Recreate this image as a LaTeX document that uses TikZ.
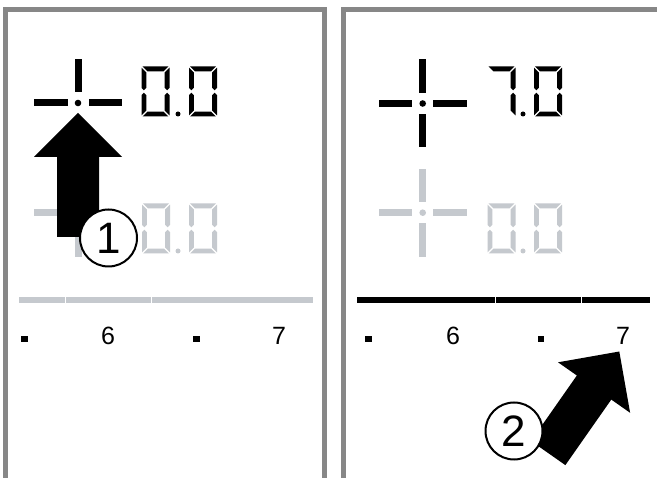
\documentclass[tikz,border=0pt]{standalone}
\usepackage{fontspec}
\setmainfont{Liberation Sans}
\definecolor{framegray}{HTML}{878787}
\definecolor{lcdoff}{HTML}{C5C9CE}
% seven-segment pieces, local box 28 x 50
\newcommand\sgA{(1.2,0) -- (26.8,0) -- (22,4.8) -- (6,4.8) -- cycle}
\newcommand\sgD{(1.2,50) -- (26.8,50) -- (22,45.2) -- (6,45.2) -- cycle}
\newcommand\sgF{(0,1.2) -- (4.8,6) -- (4.8,21.4) -- (2.4,23.8) -- (0,21.4) -- cycle}
\newcommand\sgE{(0,48.8) -- (4.8,44) -- (4.8,28.6) -- (2.4,26.2) -- (0,28.6) -- cycle}
\newcommand\sgB{(28,1.2) -- (23.2,6) -- (23.2,21.4) -- (25.6,23.8) -- (28,21.4) -- cycle}
\newcommand\sgC{(28,48.8) -- (23.2,44) -- (23.2,28.6) -- (25.6,26.2) -- (28,28.6) -- cycle}
\newcommand\segzero[3]{\begin{scope}[shift={(#1,#2)}]\fill[#3] \sgA \sgB \sgC \sgD \sgE \sgF;\end{scope}}
\newcommand\segseven[3]{\begin{scope}[shift={(#1,#2)}]\fill[#3] \sgA \sgB \sgC;\end{scope}}
% crosshair bars
\newcommand\xbL[3]{\fill[#3] ({#1-44},{#2-3.5}) rectangle ({#1-10.5},{#2+3.5});}
\newcommand\xbR[3]{\fill[#3] ({#1+10.5},{#2-3.5}) rectangle ({#1+44},{#2+3.5});}
\newcommand\xbT[3]{\fill[#3] ({#1-3.5},{#2-44}) rectangle ({#1+3.5},{#2-10.5});}
\newcommand\xbB[3]{\fill[#3] ({#1-3.5},{#2+10.5}) rectangle ({#1+3.5},{#2+44});}
\newcommand\xdot[3]{\fill[#3] (#1,#2) circle (3.3);}
\tikzset{
  framel/.style={draw=framegray, line width=5pt, line join=miter},
  lbl/.style={font=\fontsize{25}{25}\selectfont, inner sep=0pt, anchor=base},
  numcirc/.style={circle, draw=black, line width=2pt, fill=white, minimum size=57pt,
    inner sep=0pt, font=\fontsize{44}{44}\selectfont},
}
\begin{document}
\begin{tikzpicture}[x=1pt,y=-1pt]
\useasboundingbox (0,0) rectangle (657,478);
\fill[white] (0,0) rectangle (657,478);
% frames
\draw[framel] (5.5,485) -- (5.5,10) -- (324.5,10) -- (324.5,485);
\draw[framel] (343,485) -- (343,10) -- (665,10);

% ---------- left panel ----------
\xbL{78}{103}{black}\xbR{78}{103}{black}\xbT{78}{103}{black}\xdot{78}{103}{black}
\segzero{141.5}{66.5}{black}
\fill[black] (178,114) circle (2.5);
\segzero{189}{66.5}{black}
% lower (inactive)
\xbL{78}{212.7}{lcdoff}\xbB{78}{212.7}{lcdoff}
\segzero{142}{203.5}{lcdoff}
\fill[lcdoff] (178,251) circle (2.5);
\segzero{189}{203.5}{lcdoff}
% bar
\fill[lcdoff] (19,297) rectangle (65,303);
\fill[lcdoff] (66,297) rectangle (151,303);
\fill[lcdoff] (152,297) rectangle (313,303);
% scale labels
\fill[black] (21,336) rectangle (27.5,342.5);
\node[lbl] (l6) at (108,345) {6};
\fill[black] (193,336) rectangle (199.5,342.5);
\node[lbl] (l7) at (279,345) {7};
% arrow 1
\fill[black] (78,113) -- (122,157) -- (99,157) -- (99,237) -- (57,237) -- (57,157) -- (34,157) -- cycle;
\node[numcirc] (c1) at (108.5,238) {1};

% ---------- right panel ----------
\xbL{422.7}{103.5}{black}\xbR{422.7}{103.5}{black}\xbT{422.7}{103.5}{black}\xbB{422.7}{103.5}{black}\xdot{422.7}{103.5}{black}
\segseven{487.5}{66.5}{black}
\fill[black] (523,114) circle (2.5);
\segzero{534}{66.5}{black}
% lower (inactive)
\xbL{422.7}{212.7}{lcdoff}\xbR{422.7}{212.7}{lcdoff}\xbT{422.7}{212.7}{lcdoff}\xbB{422.7}{212.7}{lcdoff}\xdot{422.7}{212.7}{lcdoff}
\segzero{487.5}{203.5}{lcdoff}
\fill[lcdoff] (523,251) circle (2.5);
\segzero{534}{203.5}{lcdoff}
% bar
\fill[black] (357,297) rectangle (494.5,303);
\fill[black] (495.5,297) rectangle (581,303);
\fill[black] (582,297) rectangle (650,303);
% scale labels
\fill[black] (365,336) rectangle (371.5,342.5);
\node[lbl] (r6) at (453,345) {6};
\fill[black] (537.5,336) rectangle (544,342.5);
\node[lbl] (r7) at (623,345) {7};
% arrow 2
\begin{scope}[shift={(619.3,351.5)}, rotate=-35]
\fill[black] (0,0) -- (44,44) -- (21,44) -- (21,124) -- (-21,124) -- (-21,44) -- (-44,44) -- cycle;
\end{scope}
\node[numcirc] (c2) at (514,431) {2};
\end{tikzpicture}
\end{document}
